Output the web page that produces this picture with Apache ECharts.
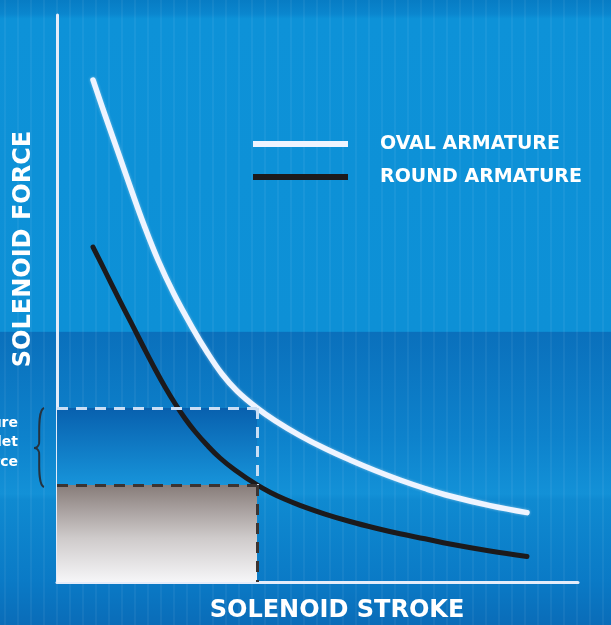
<!DOCTYPE html>
<html>
<head>
<meta charset="utf-8">
<script src="https://cdn.jsdelivr.net/npm/echarts@6/dist/echarts.min.js"></script>
<style>
html,body{margin:0;padding:0;background:#0d90d6;}
#c{width:611px;height:625px;}
</style>
</head>
<body>
<div id="c"></div>
<script>
// ---- data (stroke %, force %) ----
const ovalStroke = [6.91, 9.21, 11.71, 14.20, 16.70, 19.39, 22.46, 25.91, 28.79, 31.67, 34.55, 38.39, 41.84, 46.64, 51.44, 56.24, 61.04, 65.83, 70.63, 75.43, 83.11, 90.21];
const ovalForce  = [88.54, 82.36, 75.84, 69.31, 62.96, 56.79, 50.79, 44.97, 40.56, 36.68, 33.69, 30.69, 28.47, 25.82, 23.53, 21.52, 19.67, 17.99, 16.49, 15.17, 13.47, 12.24];
const roundStroke = [6.91, 9.21, 11.71, 14.20, 16.51, 18.81, 20.73, 22.65, 24.57, 26.49, 28.79, 31.29, 34.16, 38.39, 40.88, 43.76, 46.64, 51.44, 56.24, 61.04, 65.83, 70.63, 75.43, 83.11, 90.21];
const roundForce  = [59.08, 54.85, 50.26, 45.77, 41.62, 37.57, 34.39, 31.48, 28.84, 26.54, 24.16, 21.87, 19.75, 17.11, 15.84, 14.59, 13.53, 11.99, 10.67, 9.52, 8.50, 7.62, 6.70, 5.47, 4.50];
const seriesNames = ['OVAL ARMATURE', 'ROUND ARMATURE'];
const refStroke = 38.39;     // compared stroke position
const ovalAtRef = 30.69;     // force of oval armature at that stroke
const roundAtRef = 17.11;    // force of round armature at that stroke
const xTitle = 'SOLENOID STROKE';
const yTitle = 'SOLENOID FORCE';
const braceLines = ['Armature', 'Outlet', 'Force'];

const chart = echarts.init(document.getElementById('c'), null, {renderer: 'canvas'});
const W = 611, H = 625;
const FONT = '"DejaVu Sans", Lato, sans-serif';

function lin(stops) {
  return {type: 'linear', x: 0, y: 0, x2: 0, y2: 1, global: false, colorStops: stops};
}

const bg = [];
bg.push({
  type: 'rect', z: -20, shape: {x: 0, y: 0, width: W, height: H},
  style: {fill: lin([
    {offset: 0, color: '#077cc4'},
    {offset: 0.022, color: '#0a86ce'},
    {offset: 0.03, color: '#0d92d8'},
    {offset: 0.53, color: '#0d90d6'},
    {offset: 0.532, color: '#0a70bc'},
    {offset: 0.70, color: '#0d82cc'},
    {offset: 0.79, color: '#1391d7'},
    {offset: 0.80, color: '#0f8ad1'},
    {offset: 0.93, color: '#0a7ac6'},
    {offset: 1, color: '#0a6cb8'}
  ])}
});
for (let x = 4; x < W; x += 13) {
  bg.push({type: 'rect', z: -19, shape: {x: x, y: 0, width: 2, height: H},
    style: {fill: 'rgba(255,255,255,0.05)'}});
}
// curly brace
const braceStyle = {stroke: '#24323f', lineWidth: 2, fill: null};
bg.push({type: 'bezierCurve', z: 5,
  shape: {x1: 44, y1: 408, x2: 39, y2: 444, cpx1: 37, cpy1: 410, cpx2: 40, cpy2: 440}, style: braceStyle});
bg.push({type: 'bezierCurve', z: 5,
  shape: {x1: 39, y1: 444, x2: 34, y2: 448, cpx1: 38, cpy1: 447, cpx2: 36, cpy2: 448}, style: braceStyle});
bg.push({type: 'bezierCurve', z: 5,
  shape: {x1: 39, y1: 452, x2: 34, y2: 448, cpx1: 38, cpy1: 449, cpx2: 36, cpy2: 448}, style: braceStyle});
bg.push({type: 'bezierCurve', z: 5,
  shape: {x1: 39, y1: 452, x2: 44, y2: 487, cpx1: 40, cpy1: 456, cpx2: 37, cpy2: 485}, style: braceStyle});
braceLines.forEach((t, i) => {
  bg.push({type: 'text', z: 5, x: 18, y: 423 + i * 19.5,
    style: {text: t, fill: '#ffffff', font: 'bold 14px ' + FONT, align: 'right', verticalAlign: 'middle'}});
});
bg.push({type: 'text', z: 5, x: 24, y: 249, rotation: Math.PI / 2,
  style: {text: yTitle, fill: '#ffffff', font: 'bold 24px ' + FONT, align: 'center', verticalAlign: 'middle'}});
bg.push({type: 'text', z: 5, x: 337, y: 611,
  style: {text: xTitle, fill: '#ffffff', font: 'bold 24px ' + FONT, align: 'center', verticalAlign: 'middle'}});

const dashW = {type: [11, 8], width: 3, color: '#c9def5'};
const dashD = {type: [11, 8], width: 3, color: '#3b3432'};

chart.setOption({
  animation: false,
  backgroundColor: 'transparent',
  graphic: bg,
  grid: {left: 57, top: 15, right: 33, bottom: 43},
  legend: {
    orient: 'vertical', left: 248, top: 129, itemGap: 13,
    itemWidth: 95, itemHeight: 6, icon: 'rect',
    textStyle: {color: '#ffffff', fontSize: 19, lineHeight: 20, fontWeight: 'bold', fontFamily: FONT, padding: [0, 0, 0, 27]},
    data: seriesNames
  },
  xAxis: {
    type: 'value', min: 0, max: 100,
    axisLine: {show: true, lineStyle: {color: '#e4ecfa', width: 3}},
    axisTick: {show: false}, axisLabel: {show: false}, splitLine: {show: false}
  },
  yAxis: {
    type: 'value', min: 0, max: 100,
    axisLine: {show: true, lineStyle: {color: '#e4ecfa', width: 3}},
    axisTick: {show: false}, axisLabel: {show: false}, splitLine: {show: false}
  },
  series: [
    {
      name: seriesNames[0], type: 'line', smooth: 0.4, showSymbol: false, z: 4,
      data: ovalStroke.map((x, i) => [x, ovalForce[i]]),
      itemStyle: {color: '#eef4ff'},
      lineStyle: {color: '#eef4ff', width: 5.5, cap: 'round', join: 'round', shadowColor: 'rgba(255,255,255,0.45)', shadowBlur: 3}
    },
    {
      name: seriesNames[1], type: 'line', smooth: 0.4, showSymbol: false, z: 4,
      data: roundStroke.map((x, i) => [x, roundForce[i]]),
      itemStyle: {color: '#1c1a1c'},
      lineStyle: {color: '#1c1a1c', width: 5, cap: 'round', join: 'round'}
    },
    {
      name: 'ref', type: 'line', data: [], z: 2, silent: true,
      markArea: {
        silent: true,
        data: [
          [{coord: [0, ovalAtRef], itemStyle: {color: lin([
              {offset: 0, color: '#0860ae'}, {offset: 1, color: '#1794da'}])}},
           {coord: [refStroke, roundAtRef]}],
          [{coord: [0, roundAtRef], itemStyle: {color: lin([
              {offset: 0, color: '#877c79'}, {offset: 0.55, color: '#cfcbcb'}, {offset: 1, color: '#f6f6f8'}])}},
           {coord: [refStroke, 0]}]
        ]
      },
      markLine: {
        silent: true, symbol: 'none', label: {show: false},
        data: [
          [{coord: [0, ovalAtRef], lineStyle: dashW}, {coord: [refStroke, ovalAtRef]}],
          [{coord: [refStroke, ovalAtRef], lineStyle: dashW}, {coord: [refStroke, roundAtRef]}],
          [{coord: [0, roundAtRef], lineStyle: dashD}, {coord: [refStroke, roundAtRef]}],
          [{coord: [refStroke, roundAtRef], lineStyle: dashD}, {coord: [refStroke, 0]}]
        ]
      }
    }
  ]
});
</script>
</body>
</html>
